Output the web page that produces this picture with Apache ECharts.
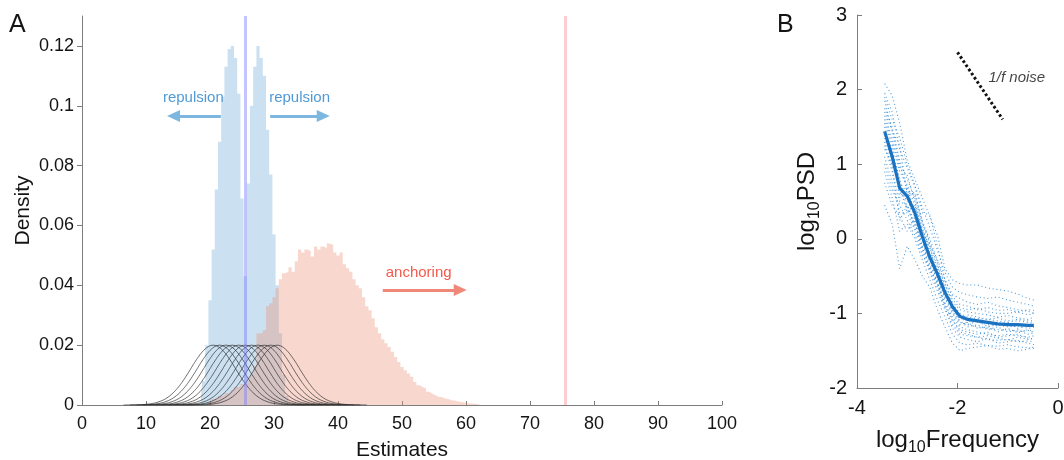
<!DOCTYPE html>
<html>
<head>
<meta charset="utf-8">
<script src="https://cdn.jsdelivr.net/npm/echarts@6.0.0/dist/echarts.min.js"></script>
<style>
  html, body { margin: 0; padding: 0; background: #ffffff; }
  #chart { width: 1064px; height: 460px; }
</style>
</head>
<body>
<div id="chart"></div>
<script>
// ---------- Panel A: estimate histograms ----------
const binWidth = 0.5;

// density per bin, bin centres start at 19.0 and step by binWidth
const repulsionStart = 19.0;
const repulsionDensity = [
  0.008, 0.020, 0.035, 0.052, 0.072, 0.088, 0.103, 0.113, 0.119, 0.120,
  0.116, 0.104, 0.069, 0.043, 0.074, 0.100, 0.113, 0.120, 0.116, 0.110,
  0.092, 0.077, 0.057, 0.040, 0.024, 0.010, 0.003
];

// density per bin, bin centres start at 20.0
const anchoringStart = 20.0;
const anchoringDensity = [
  0.001, 0.002, 0.002, 0.003, 0.003, 0.004, 0.004, 0.005, 0.006, 0.006,
  0.007, 0.007, 0.008, 0.010, 0.013, 0.024, 0.024, 0.025, 0.033, 0.034,
  0.036, 0.039, 0.042, 0.044, 0.0445, 0.046, 0.0445, 0.048, 0.052, 0.051,
  0.052, 0.0515, 0.0496, 0.053, 0.052, 0.053, 0.0525, 0.054, 0.0535, 0.051,
  0.050, 0.051, 0.047, 0.0457, 0.0445, 0.042, 0.040, 0.039, 0.036, 0.033,
  0.0317, 0.029, 0.026, 0.024, 0.022, 0.0206, 0.0194, 0.0178, 0.016, 0.0144,
  0.0127, 0.0116, 0.0105, 0.0094, 0.0077, 0.0066, 0.006, 0.0055, 0.0044, 0.0038,
  0.0033, 0.0027, 0.0027, 0.0022, 0.0020, 0.0016, 0.0015, 0.0012, 0.0010, 0.0008,
  0.0006, 0.0005, 0.0004, 0.0003, 0.0002
];

// tuning-curve centres and their shared profile (offset from centre -> density)
const tuningCentres = [20.5, 21.5, 22.5, 23.5, 24.5, 25.5, 26.5, 27.5, 28.5, 29.5, 30.5];
const profileOffsets = [0, 0.5, 1, 1.5, 2, 2.5, 3, 3.5, 4, 4.5, 5, 5.5, 6, 6.5, 7, 7.5, 8, 9, 10, 11, 12, 14];
const profileValues = [0.02, 0.0198, 0.0192, 0.01825, 0.0170, 0.0155, 0.0139, 0.01213,
                       0.0104, 0.00875, 0.0072, 0.00582, 0.0046, 0.00357, 0.0027, 0.00201,
                       0.00147, 0.00073, 0.00034, 0.00014, 0.00006, 0];

const referenceLines = [25.5, 75.5];
const xTicksA = [0, 10, 20, 30, 40, 50, 60, 70, 80, 90, 100];
const yTicksA = [0, 0.02, 0.04, 0.06, 0.08, 0.1, 0.12];

// annotation arrows: [x0, x1, y]
const arrowLeft = [21.7, 14.3, 0.0966];
const arrowRight = [29.4, 37.7, 0.0966];
const arrowAnchor = [47.0, 59.1, 0.0384];
const annotationsA = [
  { text: 'repulsion', x: 17.4, y: 0.1025, color: '#2381cc' },
  { text: 'repulsion', x: 34.0, y: 0.1025, color: '#2381cc' },
  { text: 'anchoring', x: 52.6, y: 0.0440, color: '#f0301f' }
];

// ---------- Panel B: spectra ----------
const logFreq = [-3.45, -3.3, -3.15, -3.0, -2.85, -2.7, -2.55, -2.4, -2.25, -2.1,
                 -1.95, -1.8, -1.6, -1.4, -1.2, -1.0, -0.8, -0.6, -0.48];
const meanPSD = [1.44, 1.10, 0.68, 0.57, 0.35, 0.03, -0.25, -0.47, -0.72, -0.91,
                 -1.04, -1.08, -1.10, -1.12, -1.14, -1.15, -1.15, -1.16, -1.16];
const subjectPSD = [
  [2.08, 1.92, 1.55, 1.05, 0.80, 0.55, 0.30, 0.05, -0.40, -0.55, -0.60, -0.62, -0.62, -0.66, -0.68, -0.70, -0.74, -0.80, -0.82],
  [1.95, 1.70, 1.20, 0.95, 0.70, 0.35, 0.32, -0.10, -0.55, -0.75, -0.80, -0.85, -0.88, -0.85, -0.90, -0.92, -0.95, -0.97, -1.00],
  [1.75, 1.50, 1.05, 0.80, 0.55, 0.20, 0.00, -0.30, -0.60, -0.85, -0.95, -0.98, -1.00, -1.02, -1.05, -1.03, -1.06, -1.08, -1.05],
  [1.60, 1.30, 0.90, 0.72, 0.45, 0.12, -0.12, -0.38, -0.66, -0.88, -1.00, -1.05, -1.07, -1.08, -1.10, -1.12, -1.10, -1.12, -1.13],
  [1.50, 1.15, 0.75, 0.62, 0.40, 0.08, -0.20, -0.44, -0.70, -0.92, -1.06, -1.10, -1.12, -1.15, -1.16, -1.18, -1.17, -1.20, -1.19],
  [1.35, 1.05, 0.62, 0.52, 0.30, -0.02, -0.30, -0.52, -0.78, -0.98, -1.12, -1.15, -1.18, -1.20, -1.22, -1.22, -1.24, -1.23, -1.25],
  [1.25, 0.90, 0.50, 0.45, 0.22, -0.10, -0.38, -0.60, -0.85, -1.05, -1.18, -1.22, -1.25, -1.28, -1.30, -1.28, -1.30, -1.32, -1.30],
  [1.10, 0.75, 0.35, 0.35, 0.12, -0.18, -0.45, -0.70, -0.95, -1.15, -1.28, -1.30, -1.32, -1.35, -1.36, -1.35, -1.38, -1.37, -1.38],
  [0.90, 0.55, 0.10, 0.20, 0.00, -0.28, -0.55, -0.82, -1.05, -1.28, -1.40, -1.42, -1.40, -1.43, -1.44, -1.42, -1.45, -1.46, -1.47],
  [0.45, 0.20, -0.40, -0.10, -0.28, -0.50, -0.65, -0.95, -1.18, -1.40, -1.50, -1.47, -1.45, -1.43, -1.48, -1.47, -1.50, -1.48, -1.45],
  [1.85, 1.45, 1.25, 0.60, 0.62, 0.25, -0.05, -0.35, -0.62, -0.82, -0.92, -0.95, -0.93, -0.98, -1.00, -1.00, -0.98, -1.02, -1.00],
  [1.40, 1.20, 0.80, 0.40, 0.20, -0.05, -0.35, -0.55, -0.80, -1.00, -1.15, -1.12, -1.20, -1.18, -1.25, -1.20, -1.26, -1.22, -1.24],
  [0.75, 0.45, 0.30, 0.10, 0.28, -0.15, -0.25, -0.60, -0.90, -1.10, -1.22, -1.25, -1.28, -1.25, -1.32, -1.30, -1.28, -1.33, -1.35],
  [1.65, 1.35, 0.95, 0.85, 0.50, 0.15, -0.18, -0.42, -0.68, -0.95, -1.08, -1.02, -1.05, -1.08, -1.06, -1.10, -1.08, -1.10, -1.10],
  [1.20, 1.00, 0.70, 0.35, 0.45, 0.10, -0.10, -0.50, -0.75, -0.95, -1.10, -1.18, -1.15, -1.22, -1.18, -1.25, -1.22, -1.28, -1.26],
  [1.55, 1.25, 0.55, 0.70, 0.30, 0.00, -0.28, -0.40, -0.70, -0.88, -1.02, -1.15, -1.10, -1.18, -1.15, -1.12, -1.20, -1.15, -1.18],
  [1.00, 0.65, 0.45, 0.25, 0.05, -0.22, -0.40, -0.65, -0.92, -1.20, -1.32, -1.35, -1.38, -1.33, -1.40, -1.38, -1.36, -1.40, -1.42],
  [1.90, 1.60, 1.35, 1.00, 0.72, 0.42, 0.15, -0.15, -0.45, -0.65, -0.72, -0.75, -0.78, -0.80, -0.78, -0.82, -0.85, -0.88, -0.90],
  [1.30, 0.95, 0.25, 0.45, 0.15, -0.12, -0.42, -0.58, -0.88, -1.08, -1.25, -1.28, -1.32, -1.30, -1.33, -1.36, -1.32, -1.35, -1.33],
  [1.70, 1.45, 1.00, 0.65, 0.58, 0.22, -0.08, -0.28, -0.55, -0.78, -0.88, -0.90, -0.95, -0.92, -0.96, -0.95, -0.98, -0.95, -0.96]
];
const oneOverF = [[-2.0, 2.5], [-1.1, 1.6]];
const oneOverFLabel = { text: '1/f noise', x: -0.82, y: 2.16 };
const xTicksB = [-4, -2, 0];
const yTicksB = [-2, -1, 0, 1, 2, 3];

// ---------- helpers ----------
const FONT = '"Liberation Sans", Arial, Helvetica, sans-serif';
const AXIS_GREY = '#7d7d7d';
const TEXT = '#141414';

function histogramSteps(start, values) {
  const pts = [[start - binWidth, 0]];
  values.forEach((v, i) => pts.push([start + i * binWidth, v]));
  pts.push([start + values.length * binWidth, 0]);
  return pts;
}

function tuningCurve(centre) {
  const pts = [];
  for (let i = profileOffsets.length - 1; i > 0; i--) pts.push([centre - profileOffsets[i], profileValues[i]]);
  for (let i = 0; i < profileOffsets.length; i++) pts.push([centre + profileOffsets[i], profileValues[i]]);
  return pts;
}

function arrow(a, color) {
  return {
    type: 'line', xAxisIndex: 0, yAxisIndex: 0, data: [], silent: true,
    markLine: {
      silent: true, animation: false,
      symbol: ['none', 'triangle'], symbolSize: [12, 13],
      label: { show: false },
      lineStyle: { color: color, width: 3, type: 'solid' },
      emphasis: { disabled: true },
      data: [[{ coord: [a[0], a[2]] }, { coord: [a[1], a[2]] }]]
    }
  };
}

const series = [];

series.push({
  type: 'line', xAxisIndex: 0, yAxisIndex: 0, step: 'middle', symbol: 'none', silent: true,
  data: histogramSteps(repulsionStart, repulsionDensity),
  lineStyle: { width: 0, opacity: 0 },
  areaStyle: { color: 'rgba(118,176,218,0.38)', opacity: 1 }
});
series.push({
  type: 'line', xAxisIndex: 0, yAxisIndex: 0, step: 'middle', symbol: 'none', silent: true,
  data: histogramSteps(anchoringStart, anchoringDensity),
  lineStyle: { width: 0, opacity: 0 },
  areaStyle: { color: 'rgba(234,142,112,0.34)', opacity: 1 }
});
tuningCentres.forEach(c => {
  series.push({
    type: 'line', xAxisIndex: 0, yAxisIndex: 0, symbol: 'none', silent: true,
    smooth: 0.2,
    data: tuningCurve(c),
    lineStyle: { color: 'rgba(40,40,40,0.75)', width: 0.9 }
  });
});
series.push({
  type: 'line', xAxisIndex: 0, yAxisIndex: 0, data: [], silent: true,
  markLine: {
    silent: true, animation: false, symbol: ['none', 'none'], label: { show: false },
    data: [
      { xAxis: referenceLines[0], lineStyle: { color: 'rgba(125,125,255,0.45)', width: 3, type: 'solid' } },
      { xAxis: referenceLines[1], lineStyle: { color: 'rgba(255,170,180,0.6)', width: 3, type: 'solid' } }
    ]
  }
});
series.push(arrow(arrowLeft, '#7db7df'));
series.push(arrow(arrowRight, '#7db7df'));
series.push(arrow(arrowAnchor, '#f0887a'));
series.push({
  type: 'scatter', xAxisIndex: 0, yAxisIndex: 0, symbolSize: 0, silent: true,
  data: annotationsA.map(a => ({
    value: [a.x, a.y],
    label: { show: true, position: 'inside', formatter: a.text, color: a.color, fontSize: 15, fontFamily: FONT }
  }))
});

// Panel B series
subjectPSD.forEach(trace => {
  series.push({
    type: 'line', xAxisIndex: 1, yAxisIndex: 1, symbol: 'none', silent: true,
    data: logFreq.map((f, i) => [f, trace[i]]),
    lineStyle: { color: 'rgba(38,130,208,0.8)', width: 1.1, type: [1, 2.8] }
  });
});
series.push({
  type: 'line', xAxisIndex: 1, yAxisIndex: 1, symbol: 'none', silent: true,
  data: logFreq.map((f, i) => [f, meanPSD[i]]),
  lineStyle: { color: '#1b72c0', width: 3.2 }
});
series.push({
  type: 'line', xAxisIndex: 1, yAxisIndex: 1, symbol: 'none', silent: true,
  data: oneOverF,
  lineStyle: { color: '#111111', width: 3, type: [2.6, 2.4] }
});
series.push({
  type: 'scatter', xAxisIndex: 1, yAxisIndex: 1, symbolSize: 0, silent: true,
  data: [{
    value: [oneOverFLabel.x, oneOverFLabel.y],
    label: { show: true, position: 'inside', formatter: oneOverFLabel.text, color: TEXT,
             fontSize: 15, fontStyle: 'italic', fontFamily: FONT }
  }]
});

const axisCommon = {
  splitLine: { show: false },
  nameMoveOverlap: false,
  axisLine: { show: true, onZero: false, lineStyle: { color: AXIS_GREY, width: 1 } },
  axisLabel: { color: TEXT, fontFamily: FONT }
};

const option = {
  animation: false,
  backgroundColor: '#ffffff',
  textStyle: { fontFamily: FONT },
  grid: [
    { left: 82, top: 16, width: 640, height: 389, containLabel: false, outerBoundsMode: 'none' },
    { left: 857, top: 15, width: 201, height: 373, containLabel: false, outerBoundsMode: 'none' }
  ],
  xAxis: [
    Object.assign({}, axisCommon, {
      type: 'value', gridIndex: 0, min: 0, max: 100, interval: 10,
      axisTick: { show: true, inside: true, length: 4, customValues: xTicksA, lineStyle: { color: AXIS_GREY } },
      axisLabel: { color: TEXT, fontFamily: FONT, fontSize: 18, margin: 10, customValues: xTicksA },
      name: 'Estimates', nameLocation: 'middle', nameGap: 35,
      nameTextStyle: { fontSize: 21, color: TEXT, fontFamily: FONT }
    }),
    Object.assign({}, axisCommon, {
      type: 'value', gridIndex: 1, min: -4, max: 0, interval: 2,
      axisTick: { show: true, inside: true, length: 5, customValues: xTicksB, lineStyle: { color: AXIS_GREY } },
      axisLabel: { color: TEXT, fontFamily: FONT, fontSize: 20, margin: 10, customValues: xTicksB },
      name: '{b|log}{s|10}{b|Frequency}', nameLocation: 'middle', nameGap: 38,
      nameTextStyle: {
        color: TEXT, fontFamily: FONT,
        rich: {
          b: { fontSize: 24, fontFamily: FONT, color: TEXT, lineHeight: 30, verticalAlign: 'bottom', padding: [0, 0, 4, 0] },
          s: { fontSize: 16, fontFamily: FONT, color: TEXT, lineHeight: 16, verticalAlign: 'bottom' }
        }
      }
    })
  ],
  yAxis: [
    Object.assign({}, axisCommon, {
      type: 'value', gridIndex: 0, min: 0, max: 0.13,
      axisTick: { show: true, inside: false, length: 5, customValues: yTicksA, lineStyle: { color: AXIS_GREY } },
      axisLabel: { color: TEXT, fontFamily: FONT, fontSize: 18, margin: 8, customValues: yTicksA },
      name: 'Density', nameLocation: 'middle', nameGap: 48,
      nameTextStyle: { fontSize: 21, color: TEXT, fontFamily: FONT }
    }),
    Object.assign({}, axisCommon, {
      type: 'value', gridIndex: 1, min: -2, max: 3, interval: 1,
      axisTick: { show: true, inside: true, length: 5, customValues: yTicksB, lineStyle: { color: AXIS_GREY } },
      axisLabel: { color: TEXT, fontFamily: FONT, fontSize: 20, margin: 10, customValues: yTicksB },
      name: '{b|log}{s|10}{b|PSD}', nameLocation: 'middle', nameGap: 34,
      nameTextStyle: {
        color: TEXT, fontFamily: FONT,
        rich: {
          b: { fontSize: 24, fontFamily: FONT, color: TEXT, lineHeight: 30, verticalAlign: 'bottom', padding: [0, 0, 4, 0] },
          s: { fontSize: 16, fontFamily: FONT, color: TEXT, lineHeight: 16, verticalAlign: 'bottom' }
        }
      }
    })
  ],
  graphic: [
    { type: 'text', left: 9, top: 13, style: { text: 'A', fontSize: 25, fontFamily: FONT, fill: TEXT } },
    { type: 'text', left: 777, top: 13, style: { text: 'B', fontSize: 25, fontFamily: FONT, fill: TEXT } }
  ],
  series: series
};

const chart = echarts.init(document.getElementById('chart'), null, { renderer: 'canvas' });
chart.setOption(option);
</script>
</body>
</html>
